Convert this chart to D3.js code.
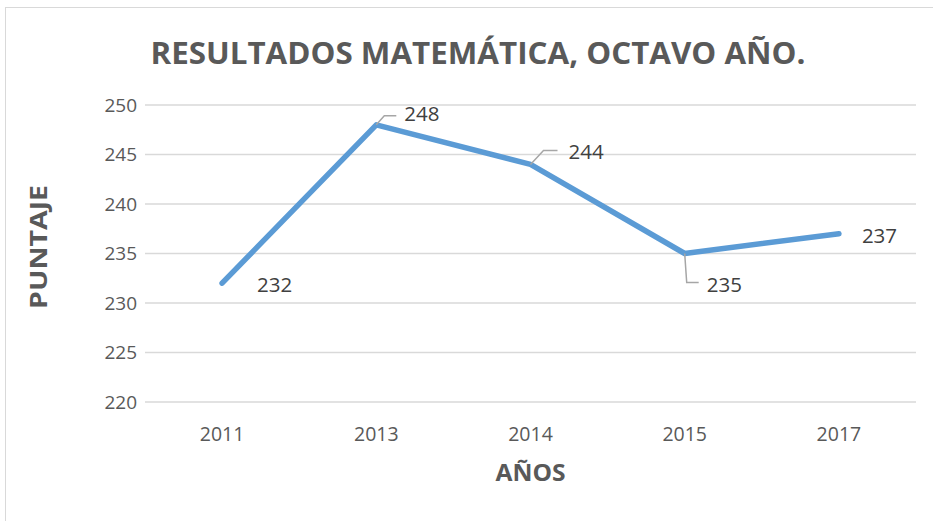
<!DOCTYPE html>
<html>
<head>
<meta charset="utf-8">
<script src="https://cdn.jsdelivr.net/npm/d3@7"></script>
<style>
  body { margin: 0; background: #fff; }
  svg { display: block; font-family: "Open Sans", "Noto Sans", sans-serif; }
</style>
</head>
<body>
<div id="chart"></div>
<script>
// Chart data.
const years = ["2011", "2013", "2014", "2015", "2017"];
const scores = [232, 248, 244, 235, 237];
const yTicks = [220, 225, 230, 235, 240, 245, 250];

const W = 933, H = 521;
const plot = { left: 145, right: 916, top: 105, bottom: 402 };

const svg = d3.select("#chart").append("svg")
  .attr("width", W)
  .attr("height", H);

// Chart area border.
svg.append("rect")
  .attr("x", 5.5).attr("y", 7.5)
  .attr("width", W + 10).attr("height", H + 10)
  .attr("fill", "#fff")
  .attr("stroke", "#d9d9d9");

const x = d3.scalePoint().domain(years).range([plot.left, plot.right]).padding(0.5);
const y = d3.scaleLinear().domain([220, 250]).range([plot.bottom, plot.top]);

// Gridlines.
svg.append("g").selectAll("line")
  .data(yTicks).enter()
  .append("line")
  .attr("x1", plot.left).attr("x2", plot.right)
  .attr("y1", d => y(d)).attr("y2", d => y(d))
  .attr("stroke", "#d9d9d9")
  .attr("stroke-width", 1.5);

// Y tick labels.
svg.append("g").selectAll("text")
  .data(yTicks).enter()
  .append("text")
  .attr("x", 137)
  .attr("y", d => y(d))
  .attr("dy", "0.35em")
  .attr("text-anchor", "end")
  .attr("font-size", 19)
  .attr("fill", "#595959")
  .text(d => d);

// X tick labels.
svg.append("g").selectAll("text")
  .data(years).enter()
  .append("text")
  .attr("x", d => x(d))
  .attr("y", 441)
  .attr("text-anchor", "middle")
  .attr("font-size", 19.5)
  .attr("fill", "#595959")
  .text(d => d);

// Title and axis titles.
svg.append("text")
  .attr("x", 478).attr("y", 64)
  .attr("text-anchor", "middle")
  .attr("font-size", 31)
  .attr("font-weight", "bold")
  .attr("fill", "#595959")
  .attr("textLength", 655)
  .attr("lengthAdjust", "spacingAndGlyphs")
  .text("RESULTADOS MATEMÁTICA, OCTAVO AÑO.");

svg.append("text")
  .attr("transform", "translate(47,247) rotate(-90)")
  .attr("text-anchor", "middle")
  .attr("font-size", 23)
  .attr("font-weight", "bold")
  .attr("fill", "#595959")
  .attr("textLength", 124)
  .attr("lengthAdjust", "spacingAndGlyphs")
  .text("PUNTAJE");

svg.append("text")
  .attr("x", x("2014")).attr("y", 481)
  .attr("text-anchor", "middle")
  .attr("font-size", 23)
  .attr("font-weight", "bold")
  .attr("fill", "#595959")
  .attr("textLength", 70)
  .attr("lengthAdjust", "spacingAndGlyphs")
  .text("AÑOS");

// Line.
const line = d3.line()
  .x((d, i) => x(years[i]))
  .y(d => y(d));

svg.append("path")
  .datum(scores)
  .attr("d", line)
  .attr("fill", "none")
  .attr("stroke", "#5b9bd5")
  .attr("stroke-width", 5.5)
  .attr("stroke-linecap", "round")
  .attr("stroke-linejoin", "round");

// Data labels, offsets relative to each point.
const labelDx = [35, 28, 38, 22, 23];
const labelDy = [2, -11, -13, 31, 2];
// Leader lines (as offsets) for the labels placed away from the point.
const leaders = [null,
  [[0, 0], [8, -9], [20, -9]],
  [[0, 0], [13, -14], [27, -14]],
  [[0, 0], [2, 29], [14, 29]],
  null];

svg.append("g").selectAll("path")
  .data(scores.map((s, i) => ({ s: s, i: i })).filter(d => leaders[d.i]))
  .enter()
  .append("path")
  .attr("d", d => d3.line()(leaders[d.i].map(p => [x(years[d.i]) + p[0], y(d.s) + p[1]])))
  .attr("fill", "none")
  .attr("stroke", "#a6a6a6")
  .attr("stroke-width", 1.5);

svg.append("g").selectAll("text")
  .data(scores).enter()
  .append("text")
  .attr("x", (d, i) => x(years[i]) + labelDx[i])
  .attr("y", (d, i) => y(d) + labelDy[i])
  .attr("dy", "0.35em")
  .attr("text-anchor", "start")
  .attr("font-size", 20.5)
  .attr("fill", "#404040")
  .text(d => d);
</script>
</body>
</html>
